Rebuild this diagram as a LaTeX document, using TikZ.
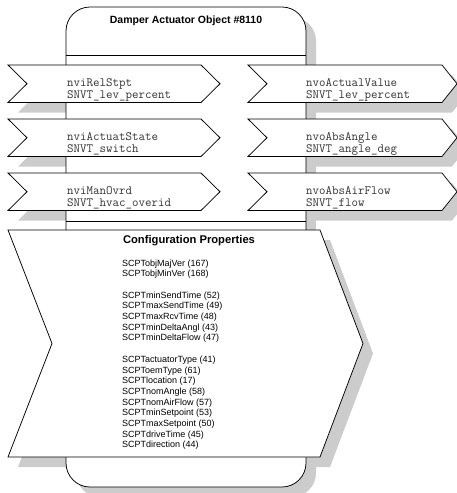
\documentclass[tikz,border=0pt]{standalone}
\usepackage{fontspec}
\setmainfont{Liberation Sans}
\begin{document}
\begin{tikzpicture}[x=1pt,y=-1pt,
  outline/.style={draw=black,line width=0.75pt,fill=white,line join=miter},
  sepline/.style={draw=black,line width=0.75pt},
  shadowfill/.style={fill=black!20,draw=none},
  porttext/.style={font=\ttfamily\fontsize{12.6}{14}\selectfont,anchor=base west,inner sep=0pt,text=black!80},
  cptext/.style={font=\fontsize{9}{10.7}\selectfont,anchor=base west,inner sep=0pt},
  headtext/.style={font=\bfseries\fontsize{10.5}{12}\selectfont,anchor=base,inner sep=0pt},
  cphead/.style={font=\bfseries\fontsize{11.2}{13}\selectfont,anchor=base,inner sep=0pt}]
\useasboundingbox (0,0) rectangle (457,493);

% drop shadows, offset down and to the right
\begin{scope}[shift={(10,10)}]
  \fill[shadowfill, rounded corners=24pt] (66,7) rectangle (306,487);
  \foreach \t in {65,119,173}{
    \fill[shadowfill] (8,\t) -- (201,\t) -- (220,\t+18.75) -- (201,\t+37.5)
      -- (8,\t+37.5) -- (27,\t+18.75) -- cycle;
    \fill[shadowfill] (248,\t) -- (442,\t) -- (457,\t+18.75) -- (442,\t+37.5)
      -- (248,\t+37.5) -- (267,\t+18.75) -- cycle;
  }
  \fill[shadowfill] (8,230) -- (320,230) -- (363,343.5) -- (320,457)
    -- (8,457) -- (52,343.5) -- cycle;
\end{scope}

% object body
\draw[outline, rounded corners=24pt] (66,7) rectangle (306,487);
\draw[sepline] (66,55) -- (306,55);
\draw[sepline] (66,221) -- (306,221);
\node[headtext] (title) at (186,23.5) {Damper Actuator Object \#8110};

% input and output network variables
\foreach \t in {65,119,173}{
  \draw[outline] (8,\t) -- (201,\t) -- (220,\t+18.75) -- (201,\t+37.5)
    -- (8,\t+37.5) -- (27,\t+18.75) -- cycle;
  \draw[outline] (248,\t) -- (442,\t) -- (457,\t+18.75) -- (442,\t+37.5)
    -- (248,\t+37.5) -- (267,\t+18.75) -- cycle;
}
\node[porttext] (in1a) at (67,86) {nviRelStpt};
\node[porttext] (in1b) at (67,98.5) {SNVT\_lev\_percent};
\node[porttext] (in2a) at (67,140) {nviActuatState};
\node[porttext] (in2b) at (67,152.5) {SNVT\_switch};
\node[porttext] (in3a) at (67,194) {nviManOvrd};
\node[porttext] (in3b) at (67,206.5) {SNVT\_hvac\_overid};
\node[porttext] (out1a) at (306,86) {nvoActualValue};
\node[porttext] (out1b) at (306,98.5) {SNVT\_lev\_percent};
\node[porttext] (out2a) at (306,140) {nvoAbsAngle};
\node[porttext] (out2b) at (306,152.5) {SNVT\_angle\_deg};
\node[porttext] (out3a) at (306,194) {nvoAbsAirFlow};
\node[porttext] (out3b) at (306,206.5) {SNVT\_flow};

% configuration properties
\draw[outline] (8,230) -- (320,230) -- (363,343.5) -- (320,457)
  -- (8,457) -- (52,343.5) -- cycle;
\node[cphead] (cphead) at (189,243.3) {Configuration Properties};
\foreach \k/\txt/\nm in {
  0/SCPTobjMajVer (167)/cp0, 1/SCPTobjMinVer (168)/cp1,
  3/SCPTminSendTime (52)/cp3, 4/SCPTmaxSendTime (49)/cp4,
  5/SCPTmaxRcvTime (48)/cp5, 6/SCPTminDeltaAngl (43)/cp6,
  7/SCPTminDeltaFlow (47)/cp7,
  9/SCPTactuatorType (41)/cp9, 10/SCPToemType (61)/cp10,
  11/SCPTlocation (17)/cp11, 12/SCPTnomAngle (58)/cp12,
  13/SCPTnomAirFlow (57)/cp13, 14/SCPTminSetpoint (53)/cp14,
  15/SCPTmaxSetpoint (50)/cp15, 16/SCPTdriveTime (45)/cp16,
  17/SCPTdirection (44)/cp17}{
  \node[cptext] (\nm) at (122,266+10.7*\k) {\txt};
}
\end{tikzpicture}
\end{document}
